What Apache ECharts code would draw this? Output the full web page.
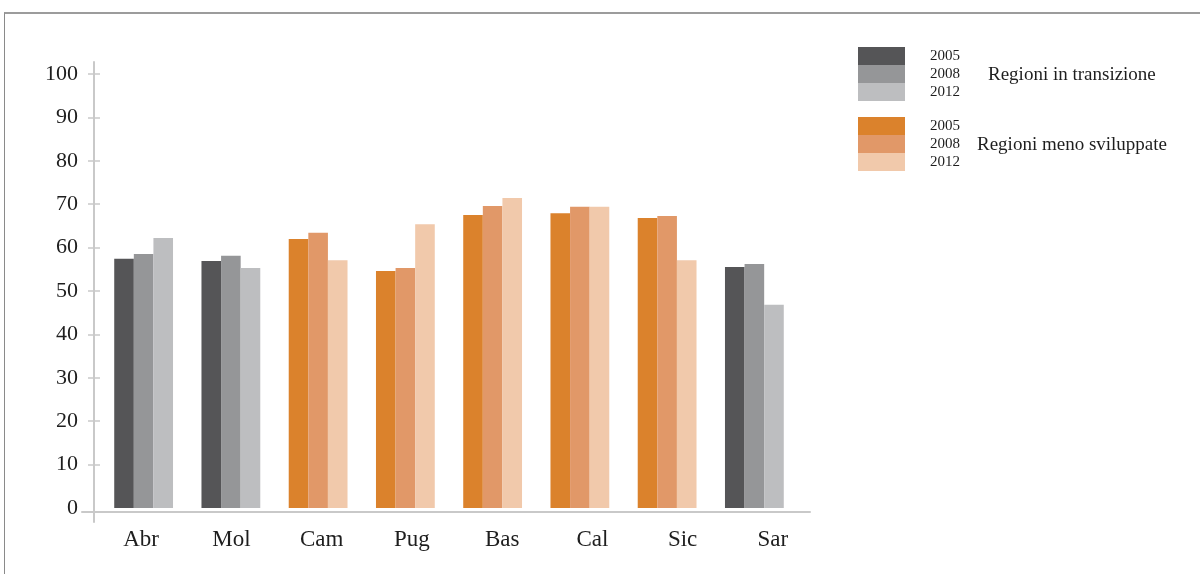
<!DOCTYPE html>
<html>
<head>
<meta charset="utf-8">
<script src="https://cdn.jsdelivr.net/npm/echarts@6/dist/echarts.min.js"></script>
<style>
  html, body { margin: 0; padding: 0; background: #fff; }
  #frame { position: absolute; left: 4px; top: 12px; width: 1196px; height: 562px;
           border-top: 2px solid #9c9c9c; border-left: 1px solid #8a8a8a; box-sizing: border-box; }
  #chart { position: absolute; left: 0; top: 0; width: 1200px; height: 574px; }
</style>
</head>
<body>
<div id="frame"></div>
<div id="chart"></div>
<script>
// ---- data ----
const categories = ['Abr', 'Mol', 'Cam', 'Pug', 'Bas', 'Cal', 'Sic', 'Sar'];
// 'T' = Regioni in transizione, 'M' = Regioni meno sviluppate
const regionGroup = ['T', 'T', 'M', 'M', 'M', 'M', 'M', 'T'];
const years = ['2005', '2008', '2012'];
const values2005 = [57.4, 56.9, 62.0, 54.6, 67.5, 67.9, 66.8, 55.5];
const values2008 = [58.5, 58.1, 63.4, 55.3, 69.6, 69.4, 67.3, 56.2];
const values2012 = [62.2, 55.3, 57.1, 65.4, 71.4, 69.4, 57.1, 46.8];
const yTickValues = [0, 10, 20, 30, 40, 50, 60, 70, 80, 90, 100];
const groupLabels = ['Regioni in transizione', 'Regioni meno sviluppate'];

// ---- styles ----
const FONT = '"Liberation Serif", "DejaVu Serif", serif';
const TEXT = '#1e1e1e';
const palette = {
  T: ['#555557', '#959698', '#bdbec0'],
  M: ['#db822c', '#e19868', '#f1c9ab']
};
const seriesValues = [values2005, values2008, values2012];

const series = years.map((y, yi) => ({
  name: y,
  type: 'bar',
  xAxisIndex: 0,
  yAxisIndex: 0,
  barWidth: 19.6,
  barGap: '0%',
  itemStyle: { color: palette.T[yi] },
  data: seriesValues[yi].map((v, i) => ({ value: v, itemStyle: { color: palette[regionGroup[i]][yi] } }))
}));

const axisGray = '#c9c9c9';
const yMin = -3.23, yMax = 102.76;

const legendBase = {
  orient: 'vertical', left: 858, padding: 0, itemGap: 0, itemWidth: 47, itemHeight: 18,
  icon: 'rect', selectedMode: false,
  textStyle: { fontFamily: FONT, fontSize: 15, color: TEXT, padding: [2, 0, 0, 20] }
};

const option = {
  animation: false,
  title: [
    { text: groupLabels[0], left: 988, top: 66, padding: 0,
      textStyle: { fontFamily: FONT, fontSize: 19, fontWeight: 'normal', color: TEXT } },
    { text: groupLabels[1], left: 977, top: 136, padding: 0,
      textStyle: { fontFamily: FONT, fontSize: 19, fontWeight: 'normal', color: TEXT } }
  ],
  legend: [
    Object.assign({}, legendBase, { top: 47,
      data: years.map((y, i) => ({ name: y, itemStyle: { color: palette.T[i] } })) }),
    Object.assign({}, legendBase, { top: 117,
      data: years.map((y, i) => ({ name: y, itemStyle: { color: palette.M[i] } })) })
  ],
  grid: [
    { left: 100, right: 402, top: 62, bottom: 52 },   // bars
    { left: 82, right: 390, top: 62, bottom: 62 },    // x axis line
    { left: 96, right: 382, top: 62, bottom: 52 }     // category labels
  ],
  xAxis: [
    { type: 'category', gridIndex: 0, data: categories,
      axisLine: { show: false }, axisTick: { show: false }, axisLabel: { show: false } },
    { type: 'value', gridIndex: 1, min: 0, max: 1,
      axisLine: { show: true, lineStyle: { color: axisGray, width: 2 } },
      axisTick: { show: false }, axisLabel: { show: false }, splitLine: { show: false } },
    { type: 'category', gridIndex: 2, data: categories,
      axisLine: { show: false }, axisTick: { show: false },
      axisLabel: { fontFamily: FONT, fontSize: 23, color: TEXT, margin: 6 } }
  ],
  yAxis: [
    { type: 'value', gridIndex: 0, min: yMin, max: yMax, offset: 6, position: 'left',
      axisLine: { show: true, lineStyle: { color: axisGray, width: 2 } },
      axisTick: { show: true, inside: false, length: 6, lineStyle: { color: axisGray, width: 1.5 },
        customValues: yTickValues.slice(1) },
      axisLabel: { show: true, fontFamily: FONT, fontSize: 22, color: TEXT, margin: 16,
        customValues: yTickValues },
      splitLine: { show: false } },
    { type: 'value', gridIndex: 0, min: yMin, max: yMax, offset: 6, position: 'left',
      axisLine: { show: false },
      axisTick: { show: true, inside: true, length: 6, lineStyle: { color: axisGray, width: 1.5 },
        customValues: yTickValues.slice(1) },
      axisLabel: { show: false }, splitLine: { show: false } },
    { type: 'value', gridIndex: 1, show: false, min: 0, max: 1 },
    { type: 'value', gridIndex: 2, show: false, min: 0, max: 1 }
  ],
  series: series
};

const chart = echarts.init(document.getElementById('chart'), null, { renderer: 'canvas' });
chart.setOption(option);
</script>
</body>
</html>
